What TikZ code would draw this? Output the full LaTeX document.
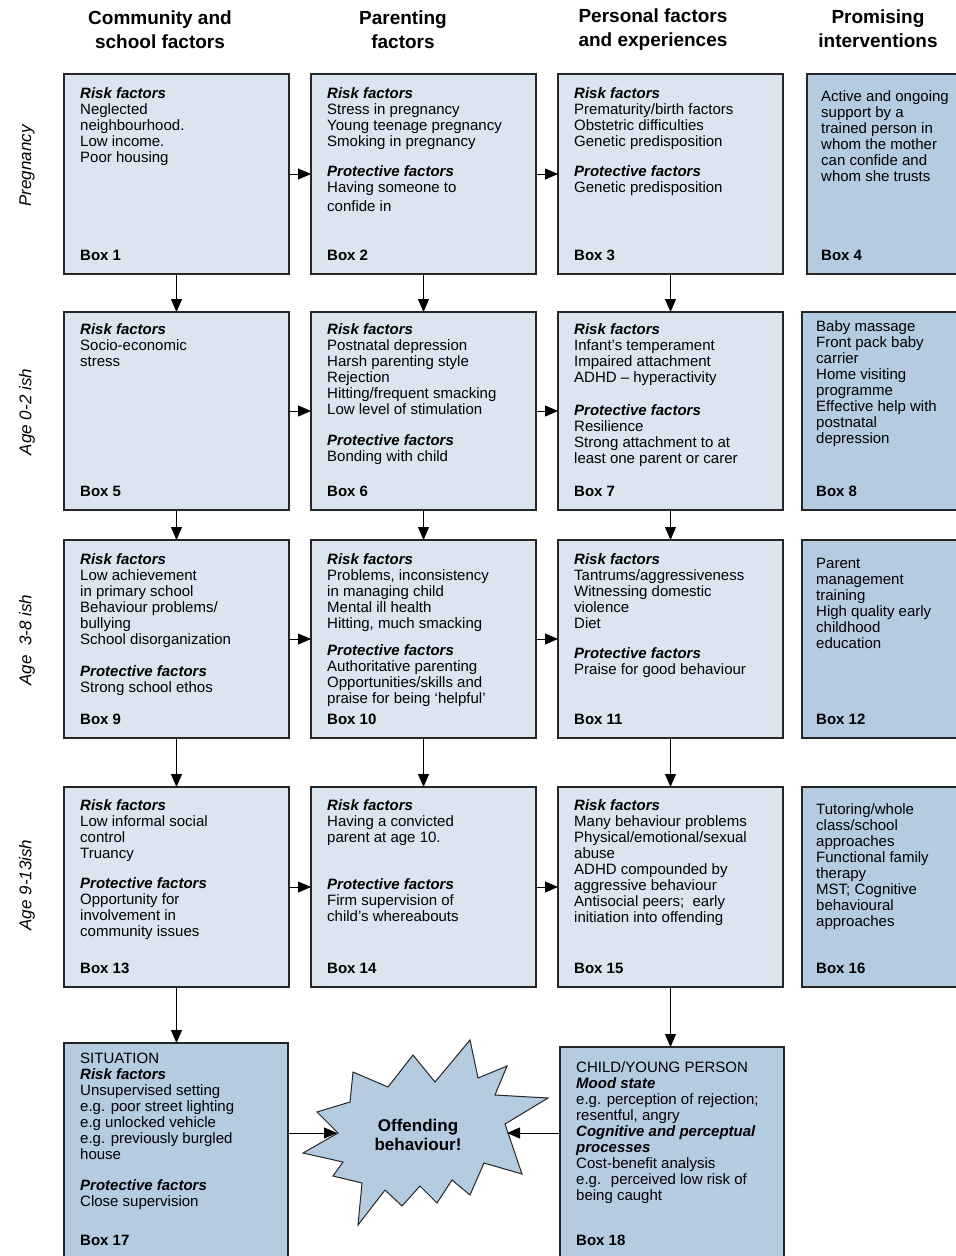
\documentclass[tikz,border=0pt]{standalone}
\usepackage{fontspec}
\setmainfont{Liberation Sans}
\usetikzlibrary{positioning,arrows.meta}
\definecolor{paleblue}{RGB}{218,229,239}
\definecolor{deepblue}{RGB}{180,203,224}
\newcommand{\riskhead}{\textbf{\textit{Risk factors}}}
\newcommand{\prothead}{\textbf{\textit{Protective factors}}}
\begin{document}
\begin{tikzpicture}[x=1pt,y=-1pt,
    factorbox/.style={draw=black!85, line width=1.1pt, fill=paleblue, anchor=north west,
        inner sep=0pt, outer sep=0pt, minimum width=225pt, minimum height=200pt},
    actionbox/.style={factorbox, fill=deepblue, minimum width=170pt},
    boxtext/.style={anchor=north west, inner sep=0pt, align=left, font=\fontsize{15}{16}\selectfont},
    boxlabel/.style={inner sep=0pt, font=\fontsize{15}{16}\selectfont\bfseries},
    colhead/.style={align=center, font=\fontsize{19}{24}\selectfont\bfseries},
    rowhead/.style={rotate=90, font=\fontsize{17}{20}\selectfont\itshape},
    flow/.style={-{Triangle[length=13pt,width=11pt]}, line width=0.9pt, black}
  ]
  \useasboundingbox (0,0) rectangle (956,1256);
  \clip (0,0) rectangle (956,1256);
  \fill[white] (0,0) rectangle (956,1256);
  \def\labelx{27}
  % column and row headings
  \node[colhead] (h1) at (160,30) {Community and\\school factors};
  \node[colhead] (h2) at (403,30) {Parenting\\factors};
  \node[colhead] (h3) at (653,30) {Personal factors\\and experiences};
  \node[colhead] (h4) at (878,29) {Promising\\interventions};
  \node[rowhead] (r1) at (\labelx,166) {Pregnancy};
  \node[rowhead] (r2) at (\labelx,412) {Age 0-2 ish};
  \node[rowhead] (r3) at (\labelx,640) {Age~ 3-8 ish};
  \node[rowhead] (r4) at (\labelx,885) {Age 9-13ish};
  % the four age rows of boxes
  \foreach \top/\ht [count=\r] in {74/200,312/198,540/198,787/200}{
    \foreach \left [count=\c] in {64,311,558}{
      \pgfmathtruncatemacro\n{4*(\r-1)+\c}
      \node[factorbox, minimum height=\ht pt] (b\n) at (\left,\top) {};
      \node[boxlabel, above right=13pt and 16pt of b\n.south west] (l\n) {Box \n};
    }
    \pgfmathtruncatemacro\n{4*\r}
    \ifnum\r=1 \def\left{807}\else\def\left{802}\fi
    \node[actionbox, minimum height=\ht pt] (b\n) at (\left,\top) {};
    \node[boxlabel, above right=13pt and 14pt of b\n.south west] (l\n) {Box \n};
  }
  \node[actionbox, minimum width=224pt, minimum height=240pt] (b17) at (64,1043) {};
  \node[actionbox, minimum width=224pt, minimum height=240pt] (b18) at (560,1047) {};
  \node[boxlabel, below right=191.5pt and 16pt of b17.north west] (l17) {Box 17};
  \node[boxlabel, below right=187.5pt and 16pt of b18.north west] (l18) {Box 18};
  % box texts
  \node[boxtext, below right=13.5pt and 16pt of b1.north west] (t1)
    {\riskhead\\Neglected\\neighbourhood.\\Low income.\\Poor housing};
  \node[boxtext, below right=13.5pt and 16pt of b2.north west] (t2)
    {\riskhead\\Stress in pregnancy\\Young teenage pregnancy\\Smoking in pregnancy\\[14pt]
     \prothead\\Having someone to\\[3pt]confide in};
  \node[boxtext, below right=13.5pt and 16pt of b3.north west] (t3)
    {\riskhead\\Prematurity/birth factors\\Obstetric difficulties\\Genetic predisposition\\[14pt]
     \prothead\\Genetic predisposition};
  \node[boxtext, below right=16.5pt and 14pt of b4.north west] (t4)
    {Active and ongoing\\support by a\\trained person in\\whom the mother\\can confide and\\whom she trusts};
  \node[boxtext, below right=11pt and 16pt of b5.north west] (t5)
    {\riskhead\\Socio-economic\\stress};
  \node[boxtext, below right=11pt and 16pt of b6.north west] (t6)
    {\riskhead\\Postnatal depression\\Harsh parenting style\\Rejection\\Hitting/frequent smacking\\Low level of stimulation\\[15pt]
     \prothead\\Bonding with child};
  \node[boxtext, below right=11pt and 16pt of b7.north west] (t7)
    {\riskhead\\Infant's temperament\\Impaired attachment\\ADHD -- hyperactivity\\[17pt]
     \prothead\\Resilience\\Strong attachment to at\\least one parent or carer};
  \node[boxtext, below right=8.5pt and 14pt of b8.north west] (t8)
    {Baby massage\\Front pack baby\\carrier\\Home visiting\\programme\\Effective help with\\postnatal\\depression};
  \node[boxtext, below right=13.5pt and 16pt of b9.north west] (t9)
    {\riskhead\\Low achievement\\in primary school\\Behaviour problems/\\bullying\\School disorganization\\[16pt]
     \prothead\\Strong school ethos};
  \node[boxtext, below right=13.5pt and 16pt of b10.north west] (t10)
    {\riskhead\\Problems, inconsistency\\in managing child\\Mental ill health\\Hitting, much smacking\\[11pt]
     \prothead\\Authoritative parenting\\Opportunities/skills and\\praise for being `helpful'};
  \node[boxtext, below right=13.5pt and 16pt of b11.north west] (t11)
    {\riskhead\\Tantrums/aggressiveness\\Witnessing domestic\\violence\\Diet\\[14pt]
     \prothead\\Praise for good behaviour};
  \node[boxtext, below right=17.5pt and 14pt of b12.north west] (t12)
    {Parent\\management\\training\\High quality early\\childhood\\education};
  \node[boxtext, below right=12.5pt and 16pt of b13.north west] (t13)
    {\riskhead\\Low informal social\\control\\Truancy\\[14pt]
     \prothead\\Opportunity for\\involvement in\\community issues};
  \node[boxtext, below right=12.5pt and 16pt of b14.north west] (t14)
    {\riskhead\\Having a convicted\\parent at age 10.\\[31pt]
     \prothead\\Firm supervision of\\child's whereabouts};
  \node[boxtext, below right=12.5pt and 16pt of b15.north west] (t15)
    {\riskhead\\Many behaviour problems\\Physical/emotional/sexual\\abuse\\ADHD compounded by\\aggressive behaviour\\Antisocial peers;~ early\\initiation into offending};
  \node[boxtext, below right=16.5pt and 14pt of b16.north west] (t16)
    {Tutoring/whole\\class/school\\approaches\\Functional family\\therapy\\MST; Cognitive\\behavioural\\approaches};
  \node[boxtext, below right=9.5pt and 16pt of b17.north west] (t17)
    {SITUATION\\\riskhead\\Unsupervised setting\\e.g. poor street lighting\\e.g unlocked vehicle\\e.g. previously burgled\\house\\[15pt]
     \prothead\\Close supervision};
  \node[boxtext, below right=14.5pt and 16pt of b18.north west] (t18)
    {CHILD/YOUNG PERSON\\\textbf{\textit{Mood state}}\\e.g. perception of rejection;\\resentful, angry\\
     \textbf{\textit{Cognitive and perceptual}}\\\textbf{\textit{processes}}\\Cost-benefit analysis\\e.g.~ perceived low risk of\\being caught};
  % offending star
  \draw[fill=deepblue, draw=black!85, line width=1pt, line join=miter]
    (470,1040) -- (478,1078) -- (507,1066) -- (495,1095) -- (548,1098) -- (505,1124)
    -- (522,1174) -- (484,1163) -- (470,1195) -- (452,1180) -- (437,1203) -- (420,1186)
    -- (402,1206) -- (385,1190) -- (358,1225) -- (362,1183) -- (333,1176) -- (343,1162)
    -- (303,1153) -- (338,1133) -- (317,1112) -- (350,1102) -- (353,1072) -- (388,1087)
    -- (413,1055) -- (435,1082) -- cycle;
  \node[align=center, font=\fontsize{17}{19}\selectfont\bfseries] (off) at (418,1135) {Offending\\behaviour!};
  \coordinate (starW) at (337,1133);
  \coordinate (starE) at (507,1133);
  % connectors
  \foreach \n in {1,2,3,5,6,7,9,10,11}{
    \pgfmathtruncatemacro\m{\n+4}
    \draw[flow] (b\n.south) -- (b\m.north);
  }
  \foreach \n in {1,2,5,6,9,10,13,14}{
    \pgfmathtruncatemacro\m{\n+1}
    \draw[flow] (b\n.east) -- (b\m.west);
  }
  \draw[flow] (b13.south) -- (b13.south |- b17.north);
  \draw[flow] (b15.south) -- (b15.south |- b18.north);
  \draw[flow] (b17.east |- starW) -- (starW);
  \draw[flow] (b18.west |- starE) -- (starE);
\end{tikzpicture}
\end{document}
